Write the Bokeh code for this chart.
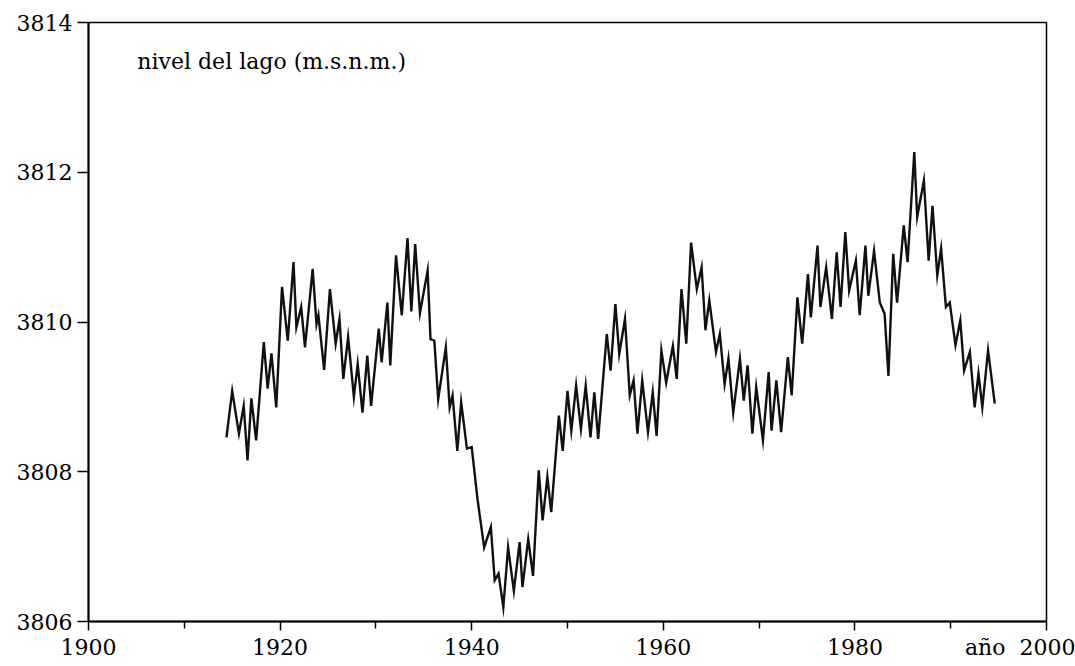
from bokeh.plotting import figure
from bokeh.models import FixedTicker, Label, Range1d
from bokeh.embed import file_html
from bokeh.resources import INLINE

# Lake level (m a.s.l.): successive seasonal highs/lows
year = [1914.4, 1915.0, 1915.7, 1916.2, 1916.6, 1917.0, 1917.5, 1918.3, 1918.7, 1919.1,
        1919.6, 1920.2, 1920.8, 1921.4, 1921.7, 1922.2, 1922.6, 1923.4, 1923.8, 1924.0,
        1924.6, 1925.2, 1925.8, 1926.2, 1926.6, 1927.1, 1927.7, 1928.1, 1928.6, 1929.1,
        1929.5, 1930.3, 1930.6, 1931.2, 1931.5, 1932.1, 1932.7, 1933.3, 1933.7, 1934.1,
        1934.6, 1935.4, 1935.7, 1936.1, 1936.5, 1937.3, 1937.7, 1938.0, 1938.5, 1938.9,
        1939.5, 1940.0, 1940.6, 1941.3, 1942.0, 1942.4, 1942.8, 1943.3, 1943.8, 1944.4,
        1945.0, 1945.3, 1945.9, 1946.4, 1947.0, 1947.4, 1947.9, 1948.3, 1949.1, 1949.5,
        1950.0, 1950.4, 1950.9, 1951.4, 1951.9, 1952.4, 1952.8, 1953.2, 1954.1, 1954.5,
        1955.0, 1955.4, 1956.0, 1956.5, 1956.9, 1957.3, 1957.8, 1958.4, 1958.9, 1959.3,
        1959.8, 1960.3, 1961.0, 1961.4, 1961.9, 1962.4, 1962.9, 1963.5, 1964.0, 1964.4,
        1964.8, 1965.5, 1965.9, 1966.4, 1966.8, 1967.3, 1968.0, 1968.4, 1968.8, 1969.3,
        1969.7, 1970.4, 1971.0, 1971.3, 1971.8, 1972.3, 1973.0, 1973.4, 1974.0, 1974.5,
        1975.1, 1975.4, 1976.1, 1976.4, 1977.0, 1977.6, 1978.1, 1978.5, 1979.0, 1979.4,
        1980.1, 1980.5, 1981.1, 1981.4, 1982.0, 1982.6, 1983.1, 1983.5, 1984.0, 1984.4,
        1985.1, 1985.5, 1986.2, 1986.5, 1987.2, 1987.7, 1988.1, 1988.6, 1989.0, 1989.5,
        1989.9, 1990.5, 1991.0, 1991.4, 1992.0, 1992.5, 1992.9, 1993.3, 1993.9, 1994.6]

level = [3808.46, 3809.08, 3808.51, 3808.88, 3808.15, 3808.98, 3808.42, 3809.73, 3809.11, 3809.58,
         3808.86, 3810.47, 3809.75, 3810.80, 3809.93, 3810.20, 3809.66, 3810.71, 3809.97, 3810.09,
         3809.36, 3810.44, 3809.71, 3810.04, 3809.24, 3809.80, 3809.00, 3809.44, 3808.79, 3809.55,
         3808.88, 3809.91, 3809.46, 3810.26, 3809.42, 3810.89, 3810.09, 3811.12, 3810.14, 3811.04,
         3810.12, 3810.69, 3809.77, 3809.75, 3808.97, 3809.66, 3808.86, 3809.02, 3808.28, 3808.93,
         3808.31, 3808.33, 3807.64, 3806.99, 3807.26, 3806.55, 3806.64, 3806.19, 3806.99, 3806.41,
         3807.06, 3806.46, 3807.10, 3806.61, 3808.02, 3807.35, 3807.93, 3807.46, 3808.75, 3808.28,
         3809.08, 3808.55, 3809.15, 3808.57, 3809.15, 3808.46, 3809.06, 3808.44, 3809.84, 3809.35,
         3810.24, 3809.57, 3810.04, 3809.02, 3809.22, 3808.51, 3809.22, 3808.53, 3809.06, 3808.48,
         3809.62, 3809.19, 3809.68, 3809.24, 3810.44, 3809.71, 3811.06, 3810.44, 3810.73, 3809.89,
         3810.29, 3809.60, 3809.84, 3809.17, 3809.51, 3808.79, 3809.51, 3808.95, 3809.42, 3808.51,
         3809.13, 3808.42, 3809.33, 3808.55, 3809.22, 3808.53, 3809.53, 3809.02, 3810.33, 3809.71,
         3810.64, 3810.06, 3811.02, 3810.20, 3810.73, 3810.04, 3810.93, 3810.20, 3811.20, 3810.42,
         3810.82, 3810.09, 3811.02, 3810.35, 3810.95, 3810.26, 3810.11, 3809.28, 3810.91, 3810.26,
         3811.29, 3810.80, 3812.27, 3811.40, 3811.89, 3810.82, 3811.55, 3810.62, 3810.98, 3810.20,
         3810.26, 3809.69, 3810.02, 3809.35, 3809.60, 3808.86, 3809.31, 3808.86, 3809.62, 3808.91]

x_major = [1900, 1920, 1940, 1960, 1980, 2000]
x_minor = [1910, 1930, 1950, 1970, 1990]
y_major = [3806, 3808, 3810, 3812, 3814]

title_text = "nivel del lago (m.s.n.m.)"
x_unit_text = "año"

FONT = "DejaVu Serif"

p = figure(frame_width=958, frame_height=599,
           x_range=Range1d(1900, 2000), y_range=Range1d(3806, 3814),
           output_backend="svg", toolbar_location=None,
           min_border_left=88, min_border_right=29, min_border_top=22, min_border_bottom=45,
           background_fill_color="white", border_fill_color="white")
p.grid.visible = False
p.outline_line_color = "black"
p.outline_line_width = 1.5

p.line(year, level, line_color="#111111", line_width=2.4, line_join="miter")

# the unit word "año" sits just left of the last tick label
overrides = {v: str(v) for v in x_major}
overrides[2000] = x_unit_text + "\u00a0\u00a0" + "2000"

xa = p.xaxis[0]
xa.ticker = FixedTicker(ticks=x_major, minor_ticks=x_minor)
xa.major_label_overrides = overrides
xa.axis_line_width = 2
xa.axis_line_color = "black"
xa.major_tick_out = 9
xa.major_tick_in = 0
xa.minor_tick_out = 7
xa.minor_tick_in = 0
xa.major_tick_line_width = 1.5
xa.minor_tick_line_width = 1.5
xa.major_label_text_font = FONT
xa.major_label_text_font_size = "22px"
xa.major_label_text_color = "black"
xa.major_label_standoff = 4

ya = p.yaxis[0]
ya.ticker = FixedTicker(ticks=y_major, minor_ticks=[])
ya.axis_line_width = 2
ya.axis_line_color = "black"
ya.major_tick_out = 11
ya.major_tick_in = 0
ya.minor_tick_line_color = None
ya.major_tick_line_width = 1.5
ya.major_label_text_font = FONT
ya.major_label_text_font_size = "22px"
ya.major_label_text_color = "black"
ya.major_label_standoff = 5

p.add_layout(Label(x=1905.1, y=3813.48, text=title_text, text_font=FONT,
                   text_font_size="22px", text_color="black",
                   text_baseline="middle", text_align="left"))

open("out.html", "w").write(file_html(p, INLINE))
